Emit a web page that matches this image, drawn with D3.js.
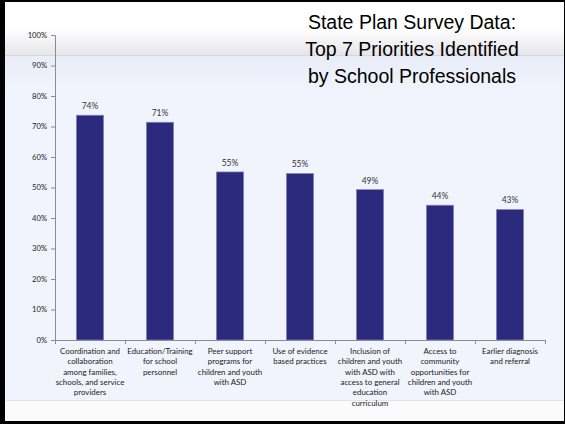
<!DOCTYPE html>
<html>
<head>
<meta charset="utf-8">
<script src="https://cdn.jsdelivr.net/npm/d3@7"></script>
<style>
  body { margin: 0; background: #000; }
  svg { display: block; }
</style>
</head>
<body>
<svg></svg>
<script>
// data
var categories = [
  ["Coordination and", "collaboration", "among families,", "schools, and service", "providers"],
  ["Education/Training", "for school", "personnel"],
  ["Peer support", "programs for", "children and youth", "with ASD"],
  ["Use of evidence", "based practices"],
  ["Inclusion of", "children and youth", "with ASD with", "access to general", "education", "curriculum"],
  ["Access to", "community", "opportunities for", "children and youth", "with ASD"],
  ["Earlier diagnosis", "and referral"]
];
var values = [73.7, 71.4, 55.1, 54.6, 49.3, 44.2, 42.8];
var yTicks = [0, 10, 20, 30, 40, 50, 60, 70, 80, 90, 100];
var titleLines = ["State Plan Survey Data:", "Top 7 Priorities Identified", "by School Professionals"];

var svgWidth = 565, svgHeight = 424;
var plotLeft = 55, plotRight = 545, plotTop = 35, plotBottom = 340;

var svg = d3.select("svg")
  .attr("width", svgWidth)
  .attr("height", svgHeight);

// slide background
var defs = svg.append("defs");
var g1 = defs.append("linearGradient").attr("id", "band").attr("x1", 0).attr("y1", 0).attr("x2", 0).attr("y2", 1);
g1.append("stop").attr("offset", "0%").attr("stop-color", "#ffffff");
g1.append("stop").attr("offset", "100%").attr("stop-color", "#e6e6eb");
var g2 = defs.append("linearGradient").attr("id", "body").attr("x1", 0).attr("y1", 0).attr("x2", 0).attr("y2", 1);
g2.append("stop").attr("offset", "0%").attr("stop-color", "#e9edf8");
g2.append("stop").attr("offset", "10%").attr("stop-color", "#f1f4fc");
g2.append("stop").attr("offset", "100%").attr("stop-color", "#f1f4fc");

svg.append("rect").attr("x", 0).attr("y", 0).attr("width", svgWidth).attr("height", svgHeight).attr("fill", "#000");
svg.append("rect").attr("x", 5).attr("y", 2).attr("width", 559).attr("height", 419).attr("fill", "#ffffff");
svg.append("rect").attr("x", 5).attr("y", 28).attr("width", 559).attr("height", 27).attr("fill", "url(#band)");
svg.append("rect").attr("x", 5).attr("y", 55).attr("width", 559).attr("height", 1).attr("fill", "#d6d6de");
svg.append("rect").attr("x", 5).attr("y", 56).attr("width", 559).attr("height", 344).attr("fill", "url(#body)");
svg.append("rect").attr("x", 5).attr("y", 400).attr("width", 559).attr("height", 1).attr("fill", "#e2e4ea");
svg.append("rect").attr("x", 5).attr("y", 401).attr("width", 559).attr("height", 20).attr("fill", "#fbfbfc");

var xscale = d3.scaleBand()
  .domain(d3.range(values.length))
  .range([plotLeft, plotRight])
  .paddingInner(0.61)
  .paddingOuter(0.305);

var yscale = d3.scaleLinear()
  .domain([0, 100])
  .range([plotBottom, plotTop]);

// y axis
var yAxis = svg.append("g")
  .attr("transform", "translate(" + plotLeft + ",0)")
  .call(d3.axisLeft(yscale).tickValues(yTicks).tickSize(4).tickPadding(4)
    .tickFormat(function(d) { return d + "%"; }));
yAxis.selectAll("path, line").attr("stroke", "#8c8c8c");
yAxis.selectAll("text").attr("font-family", "Lato, sans-serif").attr("font-size", "7.6px").attr("fill", "#222");

// x axis line + ticks between categories
svg.append("line")
  .attr("x1", plotLeft).attr("x2", plotRight)
  .attr("y1", plotBottom + 0.5).attr("y2", plotBottom + 0.5)
  .attr("stroke", "#8c8c8c");
var step = xscale.step();
svg.selectAll(".xtick")
  .data(d3.range(values.length + 1))
  .enter()
  .append("line")
  .attr("x1", function(d) { return plotLeft + d * step + 0.5; })
  .attr("x2", function(d) { return plotLeft + d * step + 0.5; })
  .attr("y1", plotBottom)
  .attr("y2", plotBottom + 4)
  .attr("stroke", "#8c8c8c");

// bars
svg.selectAll(".bar")
  .data(values)
  .enter()
  .append("rect")
  .attr("x", function(d, i) { return xscale(i); })
  .attr("y", function(d) { return yscale(d); })
  .attr("width", xscale.bandwidth())
  .attr("height", function(d) { return plotBottom - yscale(d); })
  .attr("fill", "#2c2a7c")
  .attr("stroke", "#8a8ac0")
  .attr("stroke-width", 0.7);

// value labels
svg.selectAll(".val")
  .data(values)
  .enter()
  .append("text")
  .text(function(d) { return Math.round(d) + "%"; })
  .attr("x", function(d, i) { return xscale(i) + xscale.bandwidth() / 2; })
  .attr("y", function(d) { return yscale(d) - 6; })
  .attr("text-anchor", "middle")
  .attr("font-family", "Lato, sans-serif")
  .attr("font-size", "8.5px")
  .attr("fill", "#333");

// category labels
var cat = svg.selectAll(".cat")
  .data(categories)
  .enter()
  .append("text")
  .attr("text-anchor", "middle")
  .attr("font-family", "Lato, sans-serif")
  .attr("font-size", "7.9px")
  .attr("fill", "#1a1a1a")
  .attr("transform", function(d, i) {
    return "translate(" + (xscale(i) + xscale.bandwidth() / 2) + "," + (plotBottom + 14) + ")";
  });
cat.selectAll("tspan")
  .data(function(d) { return d; })
  .enter()
  .append("tspan")
  .attr("x", 0)
  .attr("y", function(d, i) { return i * 10.3; })
  .text(function(d) { return d; });

// title
svg.append("text")
  .attr("text-anchor", "middle")
  .attr("font-family", "'Liberation Sans', Arial, sans-serif")
  .attr("font-size", "19.5px")
  .attr("fill", "#000")
  .selectAll("tspan")
  .data(titleLines)
  .enter()
  .append("tspan")
  .attr("x", 412)
  .attr("y", function(d, i) { return 29 + i * 27; })
  .text(function(d) { return d; });
</script>
</body>
</html>
